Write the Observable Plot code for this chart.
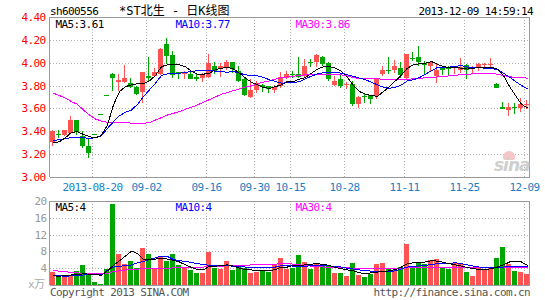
<!DOCTYPE html>
<html><head><meta charset="utf-8">
<script src="https://cdn.jsdelivr.net/npm/d3@7"></script>
<script src="https://cdn.jsdelivr.net/npm/@observablehq/plot@0.6"></script>
<style>
body{margin:0;background:#fff;}
#wrap{position:relative;width:545px;height:300px;overflow:hidden;font-family:"DejaVu Sans Mono",monospace;}
.t{position:absolute;font-size:11px;letter-spacing:-0.6px;white-space:nowrap;line-height:12px;color:#000;}
.cjk{font-family:"DejaVu Sans Mono","Noto Sans CJK SC",monospace;letter-spacing:0;}
#main,#vol{position:absolute;left:0;}
#main{top:0;} #vol{top:190px;}
svg line, svg rect{shape-rendering:crispEdges;}
svg path{shape-rendering:crispEdges;}
</style></head><body><div id="wrap">
<div class="t" style="left:50px;top:6px;">sh600556</div>
<div class="t cjk" style="left:119px;top:5px;font-size:12px;">*ST北生 - 日K线图</div>
<div class="t" style="right:12px;top:6px;">2013-12-09 14:59:14</div>
<div id="main"></div>
<div id="vol"></div>
<div style="position:absolute;left:503px;top:151px;width:12px;height:9px;border-radius:6px 6px 2px 2px;background:#f6c6c6;"></div>
<div style="position:absolute;left:494px;top:155px;font:italic bold 17px 'DejaVu Sans',sans-serif;color:#cfcfcf;letter-spacing:-1px;">sina</div>
<div class="t" style="left:50px;top:287px;color:#555;">Copyright 2013 SINA.COM</div>
<div class="t" style="right:15px;top:287px;color:#555;">http://finance.sina.com.cn</div>
</div>
<script>
// ---- data ----
const dates = ["2013-08-09","2013-08-12","2013-08-13","2013-08-14","2013-08-15","2013-08-16","2013-08-19","2013-08-20","2013-08-21","2013-08-22",
"2013-08-23","2013-08-26","2013-08-27","2013-08-28","2013-08-29","2013-08-30","2013-09-02","2013-09-03","2013-09-04","2013-09-05",
"2013-09-06","2013-09-09","2013-09-10","2013-09-11","2013-09-12","2013-09-13","2013-09-16","2013-09-17","2013-09-18","2013-09-23",
"2013-09-24","2013-09-25","2013-09-26","2013-09-27","2013-09-30","2013-10-08","2013-10-09","2013-10-10","2013-10-11","2013-10-14",
"2013-10-15","2013-10-16","2013-10-17","2013-10-18","2013-10-21","2013-10-22","2013-10-23","2013-10-24","2013-10-25","2013-10-28",
"2013-10-29","2013-10-30","2013-10-31","2013-11-01","2013-11-04","2013-11-05","2013-11-06","2013-11-07","2013-11-08","2013-11-11",
"2013-11-12","2013-11-13","2013-11-14","2013-11-15","2013-11-18","2013-11-19","2013-11-20","2013-11-21","2013-11-22","2013-11-25",
"2013-11-26","2013-11-27","2013-11-28","2013-11-29","2013-12-02","2013-12-03","2013-12-04","2013-12-05","2013-12-06","2013-12-09"];
const open = [3.31,3.38,3.37,3.385,3.495,3.36,3.275,3.38,3.55,3.72,
3.905,3.835,3.83,3.82,3.785,3.74,3.88,3.885,3.905,4.16,
4.065,3.915,3.905,3.905,3.875,3.865,3.875,3.975,3.95,3.965,
4.005,3.93,3.855,3.70,3.76,3.805,3.80,3.76,3.795,3.87,
3.905,3.905,3.88,4.01,4.01,4.054,4.00,3.805,3.855,3.805,
3.81,3.635,3.71,3.715,3.71,3.905,3.94,3.935,3.95,3.87,
4.045,4.05,3.995,3.97,3.88,3.95,3.955,3.955,3.94,3.98,
3.945,3.955,3.985,3.98,3.815,3.61,3.585,3.612,3.605,3.63];
const high = [3.415,3.41,3.415,3.53,3.50,3.40,3.33,3.38,3.55,3.72,
3.91,3.90,3.98,3.87,3.80,3.92,4.05,3.95,4.125,4.215,
4.10,3.915,3.93,3.92,3.905,3.91,4.08,4.01,4.00,4.02,
4.01,3.97,3.87,3.855,3.84,3.81,3.80,3.805,3.92,3.93,
3.93,4.05,4.036,4.03,4.074,4.06,4.01,3.884,3.898,3.834,
3.84,3.708,3.738,3.72,3.87,3.97,4.05,4.02,4.01,4.08,
4.09,4.15,4.015,4.015,3.986,3.97,3.97,3.97,4.045,3.99,
3.97,4.00,4.00,4.045,3.825,3.655,3.65,3.65,3.687,3.67];
const low = [3.27,3.34,3.36,3.38,3.37,3.25,3.17,3.38,3.55,3.72,
3.75,3.75,3.825,3.78,3.717,3.65,3.83,3.875,3.89,3.99,
3.863,3.855,3.855,3.855,3.84,3.835,3.87,3.90,3.875,3.94,
3.91,3.83,3.71,3.69,3.737,3.74,3.737,3.737,3.78,3.855,
3.87,3.863,3.87,3.96,3.963,3.97,3.84,3.796,3.776,3.773,
3.62,3.605,3.644,3.64,3.68,3.884,3.90,3.913,3.87,3.855,
4.015,3.97,3.90,3.92,3.825,3.89,3.89,3.90,3.913,3.855,
3.905,3.93,3.955,3.955,3.78,3.60,3.533,3.555,3.57,3.595];
const close = [3.40,3.378,3.41,3.50,3.405,3.28,3.215,3.38,3.55,3.72,
3.875,3.845,3.865,3.795,3.735,3.92,3.875,3.92,4.12,4.07,
3.905,3.91,3.915,3.87,3.87,3.895,3.995,3.935,3.975,4.005,
3.95,3.85,3.725,3.76,3.825,3.80,3.775,3.79,3.875,3.905,
3.90,3.885,3.97,4.005,4.065,4.00,3.865,3.84,3.805,3.81,
3.65,3.70,3.705,3.695,3.865,3.935,3.935,3.97,3.90,4.08,
4.04,4.015,3.99,4.005,3.94,3.945,3.95,3.96,3.965,3.945,
3.96,3.99,3.99,3.985,3.79,3.605,3.61,3.61,3.64,3.635];
const volume = [3.2,2.2,2.1,2.5,3.3,4.8,2.7,0.8,0.3,3.8,
19.3,7.3,4.9,5.7,4.1,8.9,7.3,4.1,7.0,5.7,
7.3,4.8,4.1,3.5,2.9,2.9,7.8,4.1,3.8,5.7,
3.5,4.4,4.1,2.9,3.2,3.5,3.2,5.1,6.5,3.7,
4.0,7.1,5.4,3.8,5.1,4.9,4.8,2.9,2.9,2.2,
5.2,2.5,1.9,2.7,5.1,5.2,3.8,3.5,4.4,9.8,
4.6,5.4,4.9,5.9,6.2,4.4,3.8,5.2,5.2,3.2,
2.2,4.4,3.8,4.4,6.5,9.0,5.1,3.3,3.2,2.7];
const ma5 = [3.304,3.313,3.348,3.395,3.40,3.377,3.357,3.348,3.37,3.46,
3.635,3.752,3.796,3.81,3.82,3.822,3.846,3.893,3.97,3.986,
3.986,3.986,3.97,3.928,3.904,3.904,3.913,3.942,3.957,3.963,
3.95,3.913,3.87,3.834,3.81,3.787,3.78,3.796,3.81,3.84,
3.84,3.86,3.875,3.913,3.948,3.97,3.97,3.957,3.928,3.875,
3.805,3.752,3.729,3.717,3.71,3.752,3.796,3.846,3.898,3.957,
3.986,3.995,4.00,4.015,3.99,3.97,3.963,3.963,3.957,3.948,
3.957,3.963,3.963,3.963,3.948,3.893,3.796,3.717,3.64,3.61];
const ma10 = [3.325,3.33,3.342,3.348,3.348,3.348,3.342,3.348,3.365,3.43,
3.488,3.54,3.57,3.59,3.64,3.708,3.767,3.825,3.893,3.907,
3.913,3.913,3.919,3.928,3.934,3.937,3.937,3.93,3.925,3.922,
3.928,3.913,3.898,3.893,3.89,3.875,3.855,3.84,3.825,3.83,
3.828,3.84,3.863,3.887,3.907,3.916,3.919,3.919,3.913,3.898,
3.884,3.87,3.855,3.834,3.81,3.79,3.78,3.79,3.81,3.846,
3.855,3.875,3.904,3.934,3.963,3.966,3.966,3.972,3.98,3.966,
3.963,3.96,3.957,3.957,3.942,3.913,3.878,3.84,3.805,3.775];
const ma30 = [3.737,3.717,3.694,3.664,3.64,3.59,3.547,3.512,3.494,3.483,
3.483,3.483,3.483,3.474,3.471,3.474,3.48,3.503,3.524,3.547,
3.562,3.576,3.597,3.614,3.635,3.658,3.682,3.705,3.729,3.743,
3.76,3.775,3.793,3.802,3.82,3.834,3.846,3.86,3.875,3.88,
3.887,3.893,3.898,3.90,3.904,3.904,3.904,3.904,3.898,3.887,
3.875,3.866,3.863,3.863,3.863,3.86,3.86,3.86,3.86,3.86,
3.863,3.869,3.872,3.875,3.88,3.884,3.89,3.896,3.898,3.904,
3.907,3.91,3.91,3.91,3.904,3.893,3.88,3.878,3.875,3.869];
const vma5 = [2.3,2.2,2.4,2.5,2.6,2.8,2.7,2.6,2.4,3.5,
4.8,5.9,7.0,8.2,7.6,6.2,6.2,6.3,6.5,6.3,
6.0,5.6,4.9,4.3,3.8,3.7,4.6,4.6,4.8,4.9,
4.6,4.1,3.8,3.7,3.6,3.5,3.5,3.8,4.4,4.4,
4.8,4.8,4.9,5.1,5.2,5.0,4.8,4.3,4.0,3.7,
3.5,3.0,2.9,3.0,3.2,3.3,3.5,3.8,4.4,5.2,
5.4,5.5,5.6,5.9,5.8,5.5,5.2,4.9,4.6,4.3,
4.0,3.8,3.8,4.0,4.4,4.9,5.6,5.7,5.6,4.8];
const vma10 = [2.4,2.3,2.2,2.3,2.4,2.5,2.6,2.7,2.5,3.6,
4.4,4.6,4.7,4.9,5.4,5.7,6.2,6.6,7.0,6.9,
6.2,5.9,5.7,5.5,5.2,5.0,4.8,4.8,4.8,4.7,
4.6,4.5,4.4,4.4,4.4,4.4,4.4,4.4,4.7,4.8,
4.6,4.6,4.6,4.7,4.8,4.8,4.7,4.5,4.4,4.1,
3.9,3.7,3.6,3.4,3.3,3.3,3.3,3.5,4.0,4.4,
4.5,4.7,4.8,5.0,5.2,5.2,5.3,5.4,5.2,4.9,
4.6,4.4,4.4,4.4,4.4,4.4,4.5,4.6,4.6,4.6];
const vma30 = [3.6,3.4,3.3,3.1,3.0,2.9,2.9,2.8,2.8,2.9,
3.3,3.5,3.7,3.8,3.9,4.0,4.0,4.0,4.1,4.1,
4.2,4.2,4.3,4.3,4.4,4.4,4.5,4.5,4.6,4.7,
4.8,4.8,4.8,4.9,4.9,5.0,5.0,5.1,5.2,5.2,
5.1,4.9,4.8,4.6,4.5,4.4,4.4,4.3,4.2,4.2,
4.1,4.1,4.1,4.0,4.0,4.0,4.0,4.0,4.1,4.2,
4.3,4.3,4.4,4.4,4.4,4.4,4.4,4.4,4.4,4.4,
4.4,4.4,4.4,4.4,4.4,4.4,4.4,4.4,4.4,4.4];
const tickDates = ["2013-08-20","2013-09-02","2013-09-16","2013-09-30","2013-10-15","2013-10-28","2013-11-11","2013-11-25","2013-12-09"];
const tickLabels = ["2013-08-20","09-02","09-16","09-30","10-15","10-28","11-11","11-25","12-09"];
const priceTicks = [3.0,3.2,3.4,3.6,3.8,4.0,4.2,4.4];
const volTicks = [4,8,12,16,20];
const priceLegend = ["MA5:3.61","MA10:3.77","MA30:3.86"];
const volLegend = ["MA5:4","MA10:4","MA30:4"];
const legendColors = ["#000000","#0000ff","#ff00ff"];

// ---- drawing ----
const N = dates.length;
const idx = d3.range(N);
const RED = "#ff5252", GREEN = "#00a600";
const col = i => close[i] > open[i] ? RED : GREEN;
const tickIdx = tickDates.map(d => dates.indexOf(d));
const GRID = {stroke:"#b0b0b0", strokeDasharray:"1,2"};
const font = {fontFamily:'"DejaVu Sans Mono",monospace', fontSize:"11px", letterSpacing:"-0.6px", background:"transparent", overflow:"visible"};
const legendX = [5,125,245];
const LW = {strokeWidth:1};

const main = Plot.plot({
  width:545, height:200, marginTop:17, marginBottom:23, marginLeft:50, marginRight:15,
  x:{domain:[0,N], axis:null}, y:{domain:[3.0,4.4], axis:null},
  style:font,
  marks:[
    Plot.ruleY(priceTicks.slice(1,-1), GRID),
    Plot.ruleX(tickIdx, GRID),
    Plot.ruleX(idx, {x:i=>i+2/6, y1:i=>low[i], y2:i=>high[i], stroke:col}),
    Plot.rect(idx, {x1:i=>i, x2:i=>i+5/6, y1:i=>open[i], y2:i=>close[i], fill:col}),
    Plot.ruleY(idx, {x1:i=>i, x2:i=>i+5/6, y:i=>close[i], stroke:col, dx:-0.5}),
    Plot.line(idx, {x:i=>i+0.5, y:i=>ma30[i], stroke:"#ff00ff", ...LW}),
    Plot.line(idx, {x:i=>i+0.5, y:i=>ma10[i], stroke:"#0000ff", ...LW}),
    Plot.line(idx, {x:i=>i+0.5, y:i=>ma5[i], stroke:"#000000", ...LW}),
    Plot.text(priceTicks, {y:d=>d, text:d=>d.toFixed(2), frameAnchor:"left", textAnchor:"end", dx:-5, fill:"#ff0000"}),
    Plot.text(tickIdx, {x:d=>d, text:(d,j)=>tickLabels[j], frameAnchor:"bottom", lineAnchor:"middle", dy:10, fill:"#1a7fc7"}),
    ...priceLegend.map((t,j)=>Plot.text([t], {text:d=>d, frameAnchor:"top-left", textAnchor:"start", lineAnchor:"middle", dx:legendX[j], dy:7, fill:legendColors[j]})),
    Plot.ruleX([0, N], {stroke:"#999", dx:-1}),
    Plot.ruleY([3.0, 4.4], {stroke:"#999"})
  ]
});
document.getElementById("main").appendChild(main);

const vol = Plot.plot({
  width:545, height:110, marginTop:11, marginBottom:15, marginLeft:50, marginRight:15,
  x:{domain:[0,N], axis:null}, y:{domain:[0,20], axis:null},
  style:font,
  marks:[
    Plot.ruleY(volTicks.slice(0,-1), GRID),
    Plot.ruleX(tickIdx, GRID),
    Plot.rect(idx, {x1:i=>i, x2:i=>i+5/6, y1:0, y2:i=>volume[i], fill:col}),
    Plot.line(idx, {x:i=>i+0.5, y:i=>vma30[i], stroke:"#ff00ff", ...LW}),
    Plot.line(idx, {x:i=>i+0.5, y:i=>vma10[i], stroke:"#0000ff", ...LW}),
    Plot.line(idx, {x:i=>i+0.5, y:i=>vma5[i], stroke:"#000000", ...LW}),
    Plot.text(volTicks, {y:d=>d, text:d=>String(d), frameAnchor:"left", textAnchor:"end", dx:-4, fill:"#999"}),
    Plot.text(["x万"], {y:0, text:d=>d, frameAnchor:"left", textAnchor:"end", dx:-6, dy:-1, fill:"#aaa", fontFamily:'"DejaVu Sans Mono","Noto Sans CJK SC",monospace'}),
    ...volLegend.map((t,j)=>Plot.text([t], {text:d=>d, frameAnchor:"top-left", textAnchor:"start", lineAnchor:"middle", dx:legendX[j], dy:6, fill:legendColors[j]})),
    Plot.ruleX([0, N], {stroke:"#999", dx:-1}),
    Plot.ruleY([0, 20], {stroke:"#999"})
  ]
});
document.getElementById("vol").appendChild(vol);
</script>
</body></html>
